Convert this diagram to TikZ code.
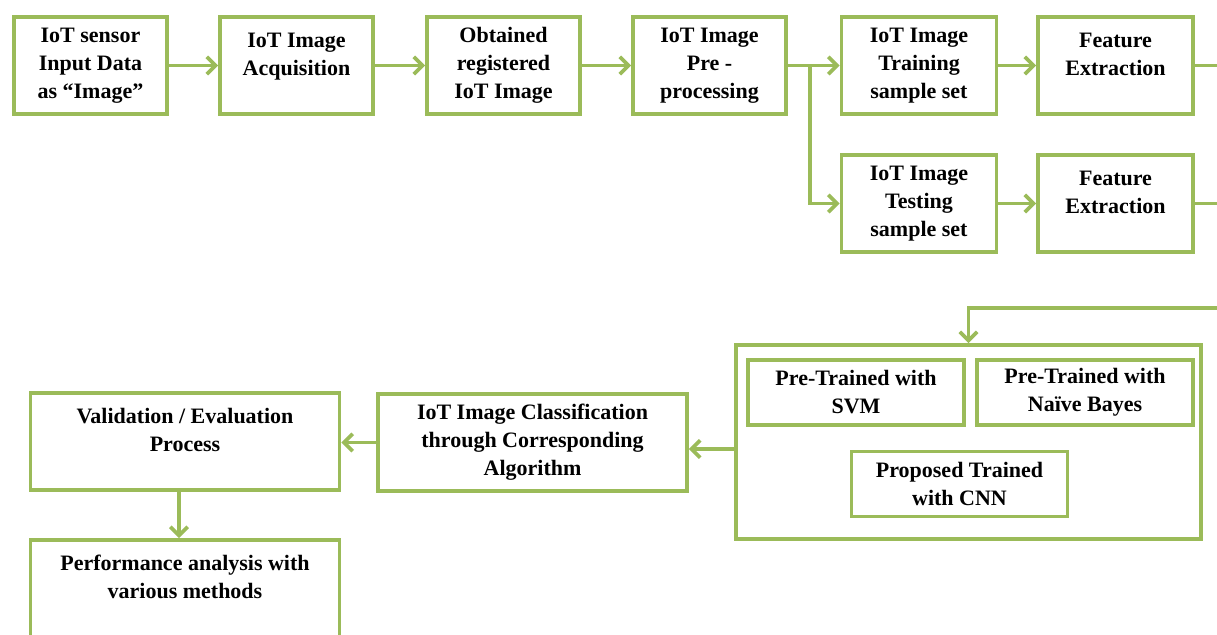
\documentclass[tikz,border=0pt]{standalone}
\usepackage{fontspec}
\setmainfont{Liberation Serif}
\usetikzlibrary{arrows.meta,calc}
\definecolor{grn}{RGB}{155,187,89}
\begin{document}
\begin{tikzpicture}[x=0.75pt,y=-0.75pt,
  box/.style={draw=grn,line width=2.8pt,fill=white,align=center,inner sep=0pt,
    font=\bfseries\fontsize{16.5}{21}\selectfont},
  sbox/.style={box,minimum width=114.8pt,minimum height=72.8pt},
  mbox/.style={box,minimum width=116.3pt,minimum height=72.8pt},
  wbox/.style={box,minimum width=231.8pt,minimum height=72.8pt},
  cbox/.style={box,minimum width=162pt,minimum height=48.8pt},
  ln/.style={draw=grn,line width=2.8pt},
  arr/.style={ln,-{Straight Barb[length=6.5pt,width=13pt]}}]
\clip (0,0) rectangle (1217,635);
\fill[white] (0,0) rectangle (1217,635);
% top row
\node[sbox] (b1) at (90.5,65.5) {IoT sensor\\Input Data\\as “Image”};
\node[sbox] (b2) at (296.5,65.5) {IoT Image\\Acquisition\\[-4pt]\mbox{}};
\node[sbox] (b3) at (503.5,65.5) {Obtained\\registered\\IoT Image};
\node[sbox] (b4) at (709.5,65.5) {IoT Image\\Pre -\\processing};
\node[mbox] (b5) at (919,65.5) {IoT Image\\Training\\sample set};
\node[mbox] (b6) at (1115.5,65.5) {Feature\\Extraction\\[-4pt]\mbox{}};
% second row
\node[mbox] (b7) at (919,203.5) {IoT Image\\Testing\\sample set};
\node[mbox] (b8) at (1115.5,203.5) {Feature\\Extraction\\[-4pt]\mbox{}};
% classifier container
\node[box,minimum width=348.8pt,minimum height=145.5pt] (cont) at (968.5,442) {};
\node[cbox] (svm) at (856,392.5) {Pre-Trained with\\SVM};
\node[cbox] (nb) at (1085,392.5) {Pre-Trained with\\Naïve Bayes};
\node[cbox] (cnn) at (959.5,484) {Proposed Trained\\with CNN};
% bottom row
\node[wbox] (cls) at (532.5,442.5) {IoT Image Classification\\through Corresponding\\Algorithm};
\node[wbox] (val) at (185,441.5) {Validation / Evaluation\\Process\\[-4pt]\mbox{}};
\node[wbox] (perf) at (185,588.5) {Performance analysis with\\various methods\\[-4pt]\mbox{}};
% connectors
\draw[arr] (b1) -- (b2);
\draw[arr] (b2) -- (b3);
\draw[arr] (b3) -- (b4);
\coordinate (sp) at (810,65.5);
\draw[ln] (b4.east) -- (sp);
\draw[arr] (sp) -- (b5.west);
\draw[arr] (sp) |- (b7.west);
\draw[arr] (b5) -- (b6);
\draw[arr] (b7) -- (b8);
\coordinate (o1) at (1230,65.5);
\coordinate (o2) at (1230,203.5);
\coordinate (o3) at (1230,308);
\draw[ln] (b6.east) -- (o1);
\draw[ln] (b8.east) -- (o2);
\draw[arr] (o3) -| (cont.north);
\draw[arr] ([yshift=-5.25pt]cont.west) -- ([yshift=-5.25pt]cont.west -| cls.east);
\draw[arr] (cls.west) -- (cls.west -| val.east);
\draw[arr] ([xshift=-4.5pt]val.south) -- ([xshift=-4.5pt]perf.north);
\end{tikzpicture}
\end{document}
